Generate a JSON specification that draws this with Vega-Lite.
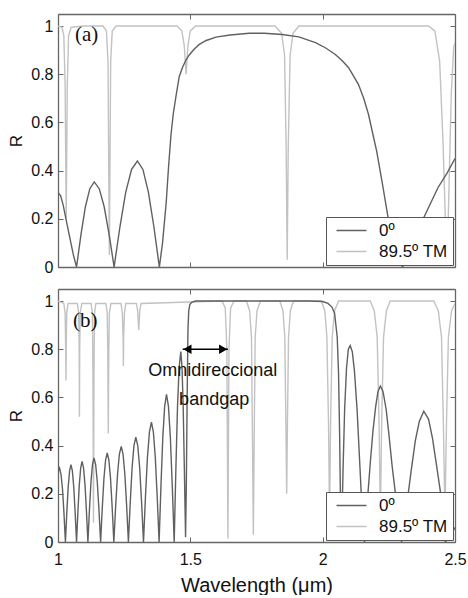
{
"$schema":"https://vega.github.io/schema/vega-lite/v6.json",
"padding":{"left":7,"top":13,"right":1,"bottom":0},
"config":{"font":"Liberation Sans","view":{"stroke":null},
"axis":{"labelFont":"Liberation Sans","labelFontSize":16,"labelColor":"#111","titleFont":"Liberation Sans","titleFontWeight":"normal","titleColor":"#111","domainColor":"#666","domainWidth":1.3,"tickColor":"#666","tickSize":-5,"grid":false,"labelFlush":false,"labelPadding":10},
"legend":{"orient":"bottom-right","offset":2,"title":null,"symbolType":"M-2,0H2","symbolSize":225,"symbolStrokeWidth":1.5,"labelFontSize":17,"labelFont":"Liberation Sans","labelColor":"#111","labelOffset":19,"padding":5,"rowPadding":3,"strokeColor":"#555","fillColor":"white","symbolOffset":12}},
"datasets":{
"a":[
{"s":"89.5º TM","x":1.0,"R":1.0},{"s":"89.5º TM","x":1.015,"R":0.995},{"s":"89.5º TM","x":1.022,"R":0.96},{"s":"89.5º TM","x":1.027,"R":0.75},{"s":"89.5º TM","x":1.031,"R":0.2},{"s":"89.5º TM","x":1.035,"R":0.75},{"s":"89.5º TM","x":1.04,"R":0.96},{"s":"89.5º TM","x":1.05,"R":0.995},{"s":"89.5º TM","x":1.1,"R":1.0},{"s":"89.5º TM","x":1.17,"R":1.0},{"s":"89.5º TM","x":1.183,"R":0.98},{"s":"89.5º TM","x":1.189,"R":0.85},{"s":"89.5º TM","x":1.194,"R":0.05},{"s":"89.5º TM","x":1.199,"R":0.85},{"s":"89.5º TM","x":1.205,"R":0.98},{"s":"89.5º TM","x":1.22,"R":1.0},{"s":"89.5º TM","x":1.45,"R":1.0},{"s":"89.5º TM","x":1.468,"R":0.98},{"s":"89.5º TM","x":1.477,"R":0.92},{"s":"89.5º TM","x":1.484,"R":0.8},{"s":"89.5º TM","x":1.491,"R":0.92},{"s":"89.5º TM","x":1.5,"R":0.98},{"s":"89.5º TM","x":1.52,"R":1.0},{"s":"89.5º TM","x":1.82,"R":1.0},{"s":"89.5º TM","x":1.845,"R":0.97},{"s":"89.5º TM","x":1.856,"R":0.88},{"s":"89.5º TM","x":1.862,"R":0.5},{"s":"89.5º TM","x":1.866,"R":0.03},{"s":"89.5º TM","x":1.87,"R":0.5},{"s":"89.5º TM","x":1.877,"R":0.88},{"s":"89.5º TM","x":1.888,"R":0.97},{"s":"89.5º TM","x":1.91,"R":1.0},{"s":"89.5º TM","x":2.4,"R":1.0},{"s":"89.5º TM","x":2.424,"R":0.98},{"s":"89.5º TM","x":2.442,"R":0.855},{"s":"89.5º TM","x":2.455,"R":0.51},{"s":"89.5º TM","x":2.464,"R":0.18},{"s":"89.5º TM","x":2.469,"R":0.05},{"s":"89.5º TM","x":2.474,"R":0.18},{"s":"89.5º TM","x":2.48,"R":0.45},{"s":"89.5º TM","x":2.486,"R":0.72},{"s":"89.5º TM","x":2.495,"R":0.91},{"s":"89.5º TM","x":2.5,"R":0.93},
{"s":"0º","x":1.0,"R":0.31},{"s":"0º","x":1.01,"R":0.295},{"s":"0º","x":1.02,"R":0.255},{"s":"0º","x":1.03,"R":0.2},{"s":"0º","x":1.045,"R":0.12},{"s":"0º","x":1.058,"R":0.05},{"s":"0º","x":1.07,"R":0.0},
{"s":"0º","x":1.0868,"R":0.134},{"s":"0º","x":1.1035,"R":0.25},{"s":"0º","x":1.1203,"R":0.325},{"s":"0º","x":1.137,"R":0.353},{"s":"0º","x":1.1558,"R":0.325},{"s":"0º","x":1.1745,"R":0.25},{"s":"0º","x":1.1933,"R":0.134},{"s":"0º","x":1.212,"R":0.0},
{"s":"0º","x":1.234,"R":0.167},{"s":"0º","x":1.256,"R":0.311},{"s":"0º","x":1.278,"R":0.405},{"s":"0º","x":1.3,"R":0.44},{"s":"0º","x":1.3208,"R":0.405},{"s":"0º","x":1.3415,"R":0.311},{"s":"0º","x":1.3623,"R":0.167},{"s":"0º","x":1.383,"R":0.0},
{"s":"0º","x":1.395,"R":0.1},{"s":"0º","x":1.409,"R":0.27},{"s":"0º","x":1.418,"R":0.42},{"s":"0º","x":1.427,"R":0.55},{"s":"0º","x":1.436,"R":0.64},{"s":"0º","x":1.446,"R":0.71},{"s":"0º","x":1.458,"R":0.79},{"s":"0º","x":1.471,"R":0.83},{"s":"0º","x":1.484,"R":0.86},{"s":"0º","x":1.496,"R":0.88},{"s":"0º","x":1.515,"R":0.905},{"s":"0º","x":1.534,"R":0.924},{"s":"0º","x":1.56,"R":0.94},{"s":"0º","x":1.597,"R":0.954},{"s":"0º","x":1.65,"R":0.963},{"s":"0º","x":1.722,"R":0.97},{"s":"0º","x":1.78,"R":0.97},{"s":"0º","x":1.847,"R":0.965},{"s":"0º","x":1.91,"R":0.955},{"s":"0º","x":1.973,"R":0.931},{"s":"0º","x":2.01,"R":0.91},{"s":"0º","x":2.048,"R":0.882},{"s":"0º","x":2.075,"R":0.855},{"s":"0º","x":2.098,"R":0.827},{"s":"0º","x":2.118,"R":0.79},{"s":"0º","x":2.135,"R":0.758},{"s":"0º","x":2.155,"R":0.7},{"s":"0º","x":2.173,"R":0.634},{"s":"0º","x":2.19,"R":0.55},{"s":"0º","x":2.204,"R":0.481},{"s":"0º","x":2.225,"R":0.35},{"s":"0º","x":2.248,"R":0.2},{"s":"0º","x":2.27,"R":0.09},{"s":"0º","x":2.29,"R":0.02},{"s":"0º","x":2.302,"R":0.0},{"s":"0º","x":2.32,"R":0.04},{"s":"0º","x":2.35,"R":0.12},{"s":"0º","x":2.38,"R":0.2},{"s":"0º","x":2.41,"R":0.27},{"s":"0º","x":2.436,"R":0.33},{"s":"0º","x":2.47,"R":0.39},{"s":"0º","x":2.5,"R":0.45}
],
"b":[
{"s":"89.5º TM","x":1.0,"R":1.0},{"s":"89.5º TM","x":1.022,"R":0.99},{"s":"89.5º TM","x":1.027,"R":0.95},{"s":"89.5º TM","x":1.029,"R":0.8},{"s":"89.5º TM","x":1.03,"R":0.67},{"s":"89.5º TM","x":1.031,"R":0.8},{"s":"89.5º TM","x":1.033,"R":0.95},{"s":"89.5º TM","x":1.038,"R":0.99},{"s":"89.5º TM","x":1.073,"R":0.99},{"s":"89.5º TM","x":1.078,"R":0.95},{"s":"89.5º TM","x":1.08,"R":0.8},{"s":"89.5º TM","x":1.081,"R":0.52},{"s":"89.5º TM","x":1.082,"R":0.8},{"s":"89.5º TM","x":1.084,"R":0.95},{"s":"89.5º TM","x":1.09,"R":0.99},{"s":"89.5º TM","x":1.125,"R":0.99},{"s":"89.5º TM","x":1.13,"R":0.95},{"s":"89.5º TM","x":1.132,"R":0.7},{"s":"89.5º TM","x":1.134,"R":0.08},{"s":"89.5º TM","x":1.136,"R":0.7},{"s":"89.5º TM","x":1.138,"R":0.95},{"s":"89.5º TM","x":1.143,"R":0.99},{"s":"89.5º TM","x":1.181,"R":0.99},{"s":"89.5º TM","x":1.186,"R":0.95},{"s":"89.5º TM","x":1.188,"R":0.8},{"s":"89.5º TM","x":1.19,"R":0.45},{"s":"89.5º TM","x":1.192,"R":0.8},{"s":"89.5º TM","x":1.194,"R":0.95},{"s":"89.5º TM","x":1.2,"R":0.99},{"s":"89.5º TM","x":1.238,"R":0.99},{"s":"89.5º TM","x":1.243,"R":0.95},{"s":"89.5º TM","x":1.246,"R":0.85},{"s":"89.5º TM","x":1.247,"R":0.73},{"s":"89.5º TM","x":1.248,"R":0.85},{"s":"89.5º TM","x":1.251,"R":0.95},{"s":"89.5º TM","x":1.256,"R":0.99},{"s":"89.5º TM","x":1.296,"R":0.99},{"s":"89.5º TM","x":1.301,"R":0.96},{"s":"89.5º TM","x":1.305,"R":0.88},{"s":"89.5º TM","x":1.309,"R":0.96},{"s":"89.5º TM","x":1.314,"R":0.99},{"s":"89.5º TM","x":1.62,"R":1.0},{"s":"89.5º TM","x":1.632,"R":0.97},{"s":"89.5º TM","x":1.638,"R":0.8},{"s":"89.5º TM","x":1.642,"R":0.015},{"s":"89.5º TM","x":1.646,"R":0.8},{"s":"89.5º TM","x":1.652,"R":0.97},{"s":"89.5º TM","x":1.665,"R":1.0},{"s":"89.5º TM","x":1.712,"R":1.0},{"s":"89.5º TM","x":1.724,"R":0.96},{"s":"89.5º TM","x":1.731,"R":0.85},{"s":"89.5º TM","x":1.735,"R":0.4},{"s":"89.5º TM","x":1.738,"R":0.03},{"s":"89.5º TM","x":1.741,"R":0.4},{"s":"89.5º TM","x":1.745,"R":0.85},{"s":"89.5º TM","x":1.752,"R":0.96},{"s":"89.5º TM","x":1.765,"R":1.0},{"s":"89.5º TM","x":1.838,"R":1.0},{"s":"89.5º TM","x":1.85,"R":0.96},{"s":"89.5º TM","x":1.857,"R":0.85},{"s":"89.5º TM","x":1.861,"R":0.5},{"s":"89.5º TM","x":1.864,"R":0.2},{"s":"89.5º TM","x":1.867,"R":0.5},{"s":"89.5º TM","x":1.871,"R":0.85},{"s":"89.5º TM","x":1.878,"R":0.96},{"s":"89.5º TM","x":1.89,"R":1.0},{"s":"89.5º TM","x":1.995,"R":1.0},{"s":"89.5º TM","x":2.008,"R":0.96},{"s":"89.5º TM","x":2.016,"R":0.85},{"s":"89.5º TM","x":2.022,"R":0.5},{"s":"89.5º TM","x":2.026,"R":0.1},{"s":"89.5º TM","x":2.03,"R":0.5},{"s":"89.5º TM","x":2.036,"R":0.85},{"s":"89.5º TM","x":2.045,"R":0.96},{"s":"89.5º TM","x":2.06,"R":1.0},{"s":"89.5º TM","x":2.18,"R":1.0},{"s":"89.5º TM","x":2.195,"R":0.96},{"s":"89.5º TM","x":2.206,"R":0.85},{"s":"89.5º TM","x":2.213,"R":0.5},{"s":"89.5º TM","x":2.218,"R":0.1},{"s":"89.5º TM","x":2.223,"R":0.5},{"s":"89.5º TM","x":2.23,"R":0.85},{"s":"89.5º TM","x":2.241,"R":0.96},{"s":"89.5º TM","x":2.255,"R":1.0},{"s":"89.5º TM","x":2.42,"R":1.0},{"s":"89.5º TM","x":2.437,"R":0.96},{"s":"89.5º TM","x":2.449,"R":0.85},{"s":"89.5º TM","x":2.456,"R":0.5},{"s":"89.5º TM","x":2.462,"R":0.1},{"s":"89.5º TM","x":2.468,"R":0.5},{"s":"89.5º TM","x":2.475,"R":0.85},{"s":"89.5º TM","x":2.487,"R":0.96},{"s":"89.5º TM","x":2.5,"R":0.99},
{"s":"0º","x":1.0,"R":0.29},{"s":"0º","x":1.006,"R":0.307},{"s":"0º","x":1.0115,"R":0.28},{"s":"0º","x":1.017,"R":0.22},{"s":"0º","x":1.0225,"R":0.12},{"s":"0º","x":1.028,"R":0.0},
{"s":"0º","x":1.0333,"R":0.122},{"s":"0º","x":1.0385,"R":0.228},{"s":"0º","x":1.0438,"R":0.295},{"s":"0º","x":1.049,"R":0.321},{"s":"0º","x":1.0543,"R":0.295},{"s":"0º","x":1.0595,"R":0.228},{"s":"0º","x":1.0648,"R":0.122},{"s":"0º","x":1.07,"R":0.0},
{"s":"0º","x":1.0753,"R":0.127},{"s":"0º","x":1.0805,"R":0.238},{"s":"0º","x":1.0858,"R":0.308},{"s":"0º","x":1.091,"R":0.335},{"s":"0º","x":1.0965,"R":0.308},{"s":"0º","x":1.102,"R":0.238},{"s":"0º","x":1.1075,"R":0.127},{"s":"0º","x":1.113,"R":0.0},
{"s":"0º","x":1.1188,"R":0.133},{"s":"0º","x":1.1245,"R":0.248},{"s":"0º","x":1.1303,"R":0.321},{"s":"0º","x":1.136,"R":0.349},{"s":"0º","x":1.1423,"R":0.321},{"s":"0º","x":1.1485,"R":0.248},{"s":"0º","x":1.1548,"R":0.133},{"s":"0º","x":1.161,"R":0.0},
{"s":"0º","x":1.1673,"R":0.141},{"s":"0º","x":1.1735,"R":0.263},{"s":"0º","x":1.1798,"R":0.34},{"s":"0º","x":1.186,"R":0.37},{"s":"0º","x":1.1923,"R":0.34},{"s":"0º","x":1.1985,"R":0.263},{"s":"0º","x":1.2048,"R":0.141},{"s":"0º","x":1.211,"R":0.0},
{"s":"0º","x":1.218,"R":0.151},{"s":"0º","x":1.225,"R":0.282},{"s":"0º","x":1.232,"R":0.365},{"s":"0º","x":1.239,"R":0.397},{"s":"0º","x":1.2458,"R":0.365},{"s":"0º","x":1.2525,"R":0.282},{"s":"0º","x":1.2593,"R":0.151},{"s":"0º","x":1.266,"R":0.0},
{"s":"0º","x":1.273,"R":0.165},{"s":"0º","x":1.28,"R":0.309},{"s":"0º","x":1.287,"R":0.4},{"s":"0º","x":1.294,"R":0.435},{"s":"0º","x":1.3013,"R":0.4},{"s":"0º","x":1.3085,"R":0.309},{"s":"0º","x":1.3158,"R":0.165},{"s":"0º","x":1.323,"R":0.0},
{"s":"0º","x":1.3305,"R":0.189},{"s":"0º","x":1.338,"R":0.353},{"s":"0º","x":1.3455,"R":0.457},{"s":"0º","x":1.353,"R":0.497},{"s":"0º","x":1.3603,"R":0.457},{"s":"0º","x":1.3675,"R":0.353},{"s":"0º","x":1.3748,"R":0.189},{"s":"0º","x":1.382,"R":0.0},
{"s":"0º","x":1.389,"R":0.233},{"s":"0º","x":1.396,"R":0.435},{"s":"0º","x":1.403,"R":0.563},{"s":"0º","x":1.41,"R":0.6125},{"s":"0º","x":1.4173,"R":0.563},{"s":"0º","x":1.4245,"R":0.435},{"s":"0º","x":1.4318,"R":0.233},{"s":"0º","x":1.439,"R":0.0},
{"s":"0º","x":1.4453,"R":0.3},{"s":"0º","x":1.4515,"R":0.561},{"s":"0º","x":1.4578,"R":0.727},{"s":"0º","x":1.464,"R":0.79},{"s":"0º","x":1.4685,"R":0.727},{"s":"0º","x":1.473,"R":0.561},{"s":"0º","x":1.4775,"R":0.3},{"s":"0º","x":1.482,"R":0.02},
{"s":"0º","x":1.485,"R":0.25},{"s":"0º","x":1.488,"R":0.6},{"s":"0º","x":1.491,"R":0.88},{"s":"0º","x":1.494,"R":0.96},{"s":"0º","x":1.498,"R":0.985},{"s":"0º","x":1.505,"R":0.995},{"s":"0º","x":1.52,"R":1.0},{"s":"0º","x":1.95,"R":1.0},{"s":"0º","x":2.0,"R":0.998},{"s":"0º","x":2.02,"R":0.99},{"s":"0º","x":2.035,"R":0.975},{"s":"0º","x":2.045,"R":0.95},{"s":"0º","x":2.055,"R":0.85},{"s":"0º","x":2.06,"R":0.7},{"s":"0º","x":2.064,"R":0.45},{"s":"0º","x":2.067,"R":0.2},{"s":"0º","x":2.07,"R":0.02},{"s":"0º","x":2.073,"R":0.1},{"s":"0º","x":2.077,"R":0.3},{"s":"0º","x":2.083,"R":0.55},{"s":"0º","x":2.09,"R":0.72},{"s":"0º","x":2.097,"R":0.8},{"s":"0º","x":2.104,"R":0.815},{"s":"0º","x":2.112,"R":0.79},{"s":"0º","x":2.12,"R":0.71},{"s":"0º","x":2.13,"R":0.55},{"s":"0º","x":2.14,"R":0.33},{"s":"0º","x":2.148,"R":0.15},{"s":"0º","x":2.158,"R":0.0},{"s":"0º","x":2.164,"R":0.1},{"s":"0º","x":2.171,"R":0.2},{"s":"0º","x":2.18,"R":0.33},{"s":"0º","x":2.19,"R":0.46},{"s":"0º","x":2.2,"R":0.56},{"s":"0º","x":2.209,"R":0.625},{"s":"0º","x":2.218,"R":0.647},{"s":"0º","x":2.228,"R":0.625},{"s":"0º","x":2.24,"R":0.55},{"s":"0º","x":2.25,"R":0.45},{"s":"0º","x":2.262,"R":0.32},{"s":"0º","x":2.275,"R":0.2},{"s":"0º","x":2.287,"R":0.09},{"s":"0º","x":2.298,"R":0.0},{"s":"0º","x":2.31,"R":0.1},{"s":"0º","x":2.323,"R":0.2},{"s":"0º","x":2.335,"R":0.3},{"s":"0º","x":2.35,"R":0.42},{"s":"0º","x":2.365,"R":0.5},{"s":"0º","x":2.382,"R":0.543},{"s":"0º","x":2.4,"R":0.51},{"s":"0º","x":2.415,"R":0.43},{"s":"0º","x":2.43,"R":0.32},{"s":"0º","x":2.446,"R":0.2},{"s":"0º","x":2.455,"R":0.1},{"s":"0º","x":2.463,"R":0.0},{"s":"0º","x":2.48,"R":0.02},{"s":"0º","x":2.5,"R":0.06}
]
},
"spacing":13,
"resolve":{"legend":{"color":"independent"}},
"vconcat":[
{"width":397,"height":253,
"layer":[
{"data":{"name":"a"},"mark":{"type":"line","strokeWidth":1.4,"clip":true},
"encoding":{
"x":{"field":"x","type":"quantitative","scale":{"domain":[1,2.5],"nice":false,"zero":false},"axis":{"orient":"bottom","values":[1,1.5,2,2.5],"labels":false,"title":null}},
"y":{"field":"R","type":"quantitative","scale":{"domain":[0,1.05],"nice":false,"zero":false},"axis":{"orient":"left","values":[0,0.2,0.4,0.6,0.8,1],"format":"~g","title":"R","titleFontSize":17,"titlePadding":5}},
"color":{"field":"s","type":"nominal","scale":{"domain":["0º","89.5º TM"],"range":["#606060","#c2c2c2"]}}}},
{"data":{"name":"a"},"mark":{"type":"line","opacity":0},
"encoding":{
"x":{"field":"x","type":"quantitative","scale":{"domain":[1,2.5],"nice":false,"zero":false},"axis":{"orient":"top","values":[1,1.5,2,2.5],"labels":false,"title":null}},
"y":{"field":"R","type":"quantitative","scale":{"domain":[0,1.05],"nice":false,"zero":false},"axis":{"orient":"right","values":[0,0.2,0.4,0.6,0.8,1],"labels":false,"title":null}}}},
{"data":{"values":[{"x":1.064,"R":0.963,"t":"(a)"}]},"mark":{"type":"text","font":"Liberation Serif","fontSize":21,"align":"left","baseline":"middle","color":"#111"},
"encoding":{"x":{"field":"x","type":"quantitative","axis":null},"y":{"field":"R","type":"quantitative","axis":null},"text":{"field":"t"}}}
],
"resolve":{"axis":{"x":"independent","y":"independent"}}},
{"width":397,"height":253,
"layer":[
{"data":{"name":"b"},"mark":{"type":"line","strokeWidth":1.4,"clip":true},
"encoding":{
"x":{"field":"x","type":"quantitative","scale":{"domain":[1,2.5],"nice":false,"zero":false},"axis":{"orient":"bottom","values":[1,1.5,2,2.5],"format":"~g","title":"Wavelength (μm)","titleFontSize":20,"labelPadding":14,"titlePadding":8}},
"y":{"field":"R","type":"quantitative","scale":{"domain":[0,1.05],"nice":false,"zero":false},"axis":{"orient":"left","values":[0,0.2,0.4,0.6,0.8,1],"format":"~g","title":"R","titleFontSize":17,"titlePadding":5}},
"color":{"field":"s","type":"nominal","scale":{"domain":["0º","89.5º TM"],"range":["#606060","#c2c2c2"]}}}},
{"data":{"name":"b"},"mark":{"type":"line","opacity":0},
"encoding":{
"x":{"field":"x","type":"quantitative","scale":{"domain":[1,2.5],"nice":false,"zero":false},"axis":{"orient":"top","values":[1,1.5,2,2.5],"labels":false,"title":null}},
"y":{"field":"R","type":"quantitative","scale":{"domain":[0,1.05],"nice":false,"zero":false},"axis":{"orient":"right","values":[0,0.2,0.4,0.6,0.8,1],"labels":false,"title":null}}}},
{"data":{"values":[{"x":1.471,"x2":1.642,"R":0.8}]},"mark":{"type":"rule","color":"#000","strokeWidth":1.5},
"encoding":{"x":{"field":"x","type":"quantitative","axis":null},"x2":{"field":"x2"},"y":{"field":"R","type":"quantitative","axis":null}}},
{"data":{"values":[{"x":1.489,"R":0.8,"dir":"left"},{"x":1.624,"R":0.8,"dir":"right"}]},"mark":{"type":"point","filled":true,"color":"#000","opacity":1,"size":90},
"encoding":{"x":{"field":"x","type":"quantitative","axis":null},"y":{"field":"R","type":"quantitative","axis":null},"shape":{"field":"dir","type":"nominal","scale":{"domain":["left","right"],"range":["triangle-left","triangle-right"]},"legend":null}}},
{"data":{"values":[{"x":1.585,"R":0.708,"t":"Omnidireccional"},{"x":1.59,"R":0.59,"t":"bandgap"}]},"mark":{"type":"text","font":"Liberation Sans","fontSize":18,"align":"center","baseline":"middle","color":"#111"},
"encoding":{"x":{"field":"x","type":"quantitative","axis":null},"y":{"field":"R","type":"quantitative","axis":null},"text":{"field":"t"}}},
{"data":{"values":[{"x":1.057,"R":0.918,"t":"(b)"}]},"mark":{"type":"text","font":"Liberation Serif","fontSize":21,"align":"left","baseline":"middle","color":"#111"},
"encoding":{"x":{"field":"x","type":"quantitative","axis":null},"y":{"field":"R","type":"quantitative","axis":null},"text":{"field":"t"}}}
],
"resolve":{"axis":{"x":"independent","y":"independent"}}}
]
}
